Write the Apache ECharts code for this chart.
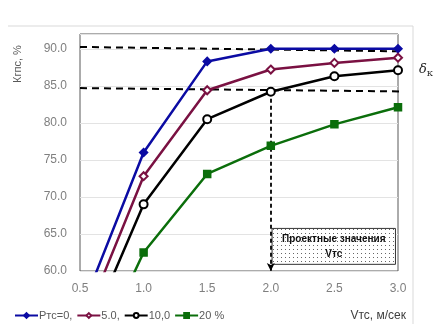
<!DOCTYPE html>
<html>
<head>
<meta charset="utf-8">
<script src="https://cdn.jsdelivr.net/npm/echarts@6/dist/echarts.min.js"></script>
<style>
  html, body { margin: 0; padding: 0; background: #fff; }
  #chart { width: 434px; height: 324px; }
</style>
</head>
<body>
<div id="chart"></div>
<script>
// Кгпс vs Vтс for several Ртс
const xVals = [0.5, 1.0, 1.5, 2.0, 2.5, 3.0];
const kp0 = [54.3, 76.0, 88.3, 90.0, 90.0, 90.0];
const kp5 = [51.7, 72.8, 84.4, 87.2, 88.1, 88.8];
const kp10 = [49.0, 69.0, 80.5, 84.2, 86.3, 87.1];
const kp20 = [44.1, 62.5, 73.1, 76.9, 79.8, 82.1];
const seriesNames = ['Ртс=0,', '5.0,', '10,0', '20 %'];

// hand-drawn reference lines (δК band), arrow and design box
const refUpper = [[0.5, 90.25], [3.28, 89.6]];
const refLower = [[0.5, 84.7], [3.28, 84.2]];
const arrowLine = [[2.0, 84.2], [2.0, 60]];
const designBox = [[2.01, 65.75], [2.98, 60.9]];

const FONT = 'Liberation Sans';
const GRAY = '#7f7f7f';

function dots() {
  const c = document.createElement('canvas');
  c.width = 4; c.height = 4;
  const g = c.getContext('2d');
  g.fillStyle = '#fff';
  g.fillRect(0, 0, 4, 4);
  g.fillStyle = '#666';
  g.fillRect(1, 1, 1, 1);
  return c;
}

const pairs = (ys) => xVals.map((x, i) => [x, ys[i]]);

function curve(name, ys, color, symbol, size) {
  return {
    name, type: 'line', data: pairs(ys), clip: true,
    symbol, symbolSize: size, showAllSymbol: true,
    lineStyle: { color, width: 2.5 },
    itemStyle: { color, borderColor: color, borderWidth: 1.5 },
    z: 5,
  };
}

function refLine(data) {
  return {
    type: 'line', data, clip: false, symbol: 'none', silent: true,
    lineStyle: { color: '#000', width: 2, type: [7, 5] }, z: 4,
  };
}

const chart = echarts.init(document.getElementById('chart'));
chart.setOption({
  animation: false,
  backgroundColor: '#fff',
  textStyle: { fontFamily: FONT },
  grid: { left: 80, right: 36, top: 34, bottom: 53, show: true, borderColor: '#595959', borderWidth: 1 },
  legend: {
    data: seriesNames, left: 9, top: 305,
    itemWidth: 23, itemHeight: 6, itemGap: 4,
    textStyle: { color: '#595959', fontSize: 11, fontFamily: FONT, padding: [0, 0, 0, -4] },
  },
  xAxis: {
    type: 'value', min: 0.5, max: 3.0, interval: 0.5,
    axisLine: { show: false }, axisTick: { show: false }, splitLine: { show: false },
    axisLabel: { color: GRAY, fontSize: 12, margin: 12, formatter: (v) => v.toFixed(1) },
  },
  yAxis: {
    type: 'value', min: 60, max: 92, interval: 5,
    axisLine: { show: false }, axisTick: { show: false },
    splitLine: { lineStyle: { color: '#e3e3e3' } },
    axisLabel: { color: GRAY, fontSize: 12, margin: 13, formatter: (v) => (v > 90 ? '' : v.toFixed(1)) },
  },
  graphic: [
    { type: 'line', shape: { x1: 8, y1: 26, x2: 413, y2: 26 }, style: { stroke: '#d9d9d9', lineWidth: 1 } },
    { type: 'line', shape: { x1: 413, y1: 26, x2: 413, y2: 324 }, style: { stroke: '#d9d9d9', lineWidth: 1 } },
    { type: 'text', x: 18, y: 64, rotation: Math.PI / 2,
      style: { text: 'Кгпс, %', fill: '#595959', font: '11px ' + FONT, textAlign: 'center', textVerticalAlign: 'middle' } },
    { type: 'text', right: 28, top: 310,
      style: { text: 'Vтс, м/сек', fill: '#404040', font: '12px ' + FONT } },
    { type: 'text', x: 419, y: 62,
      style: {
        text: '{d|δ}{k|К}',
        rich: {
          d: { fontFamily: 'DejaVu Serif', fontStyle: 'italic', fontSize: 13, fill: '#222' },
          k: { fontFamily: 'DejaVu Serif', fontSize: 8, fill: '#222', padding: [8, 0, 0, 0] },
        },
      } },
  ],
  series: [
    curve(seriesNames[0], kp0, '#0b0ba3', 'diamond', 8),
    curve(seriesNames[1], kp5, '#7a1142', 'emptyDiamond', 8),
    curve(seriesNames[2], kp10, '#000000', 'emptyCircle', 8),
    curve(seriesNames[3], kp20, '#0b6e0b', 'rect', 7),
    refLine(refUpper),
    refLine(refLower),
    {
      type: 'line', data: [], silent: true,
      markLine: {
        silent: true, symbol: ['none', 'arrow'], symbolSize: [6, 8],
        label: { show: false },
        lineStyle: { color: '#000', width: 1.8, type: [4, 3] },
        data: [[{ coord: arrowLine[0] }, { coord: arrowLine[1] }]],
      },
      markArea: {
        silent: true,
        itemStyle: { color: { image: dots(), repeat: 'repeat' }, borderColor: '#333', borderWidth: 1 },
        label: {
          show: true, position: 'inside', color: '#111', fontSize: 10, lineHeight: 15,
          fontWeight: 'bold', fontFamily: FONT, formatter: 'Проектные значения\nVтс',
        },
        data: [[{ coord: designBox[0] }, { coord: designBox[1] }]],
      },
      z: 3,
    },
  ],
});
</script>
</body>
</html>
